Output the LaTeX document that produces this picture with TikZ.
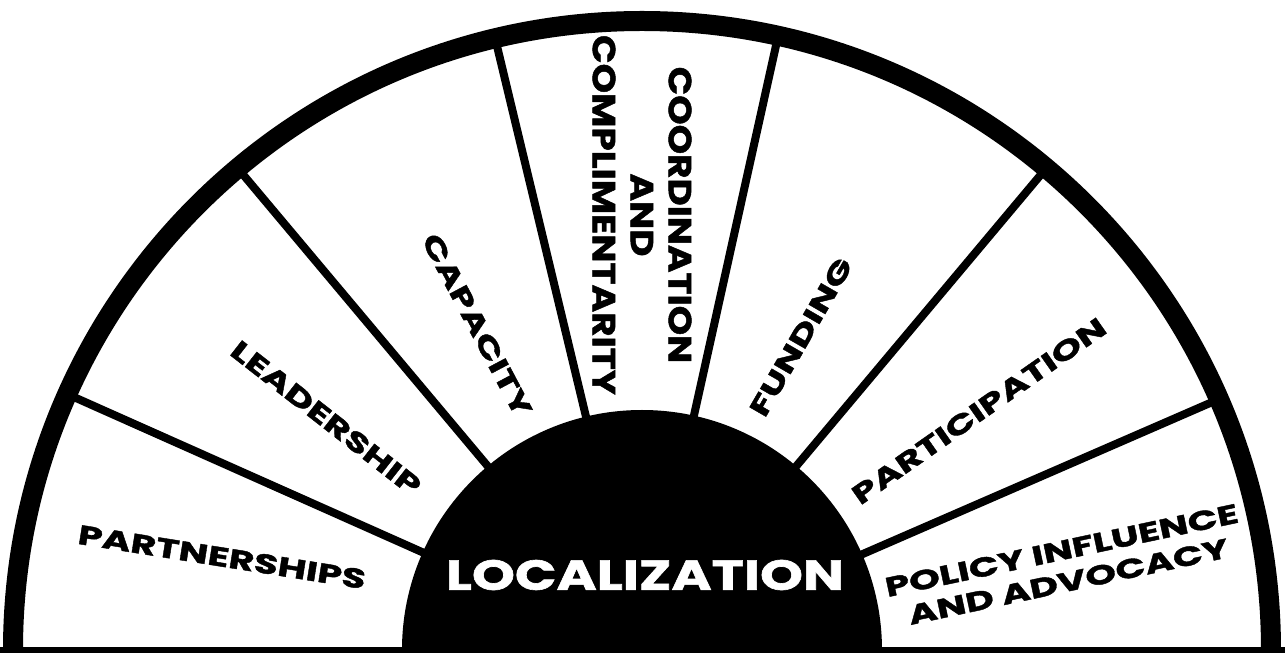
\documentclass[tikz,border=0pt]{standalone}
\usepackage{fontspec}
\setmainfont{Poppins}
\newfontfamily\pillarfont{Poppins}[FakeStretch=1.45, BoldFeatures={FakeBold=1.5}]
\newfontfamily\blockfont{Poppins}[FakeStretch=1.17, BoldFeatures={FakeBold=1.5}]
\newfontfamily\hubfont{Poppins}[FakeStretch=1.3, BoldFeatures={FakeBold=1.5}]

\begin{document}
\begin{tikzpicture}[x=1pt, y=1pt,
  divider/.style={line width=8pt},
  rim/.style={line width=20pt},
  pillar/.style={font=\pillarfont\bfseries\fontsize{27}{32}\selectfont, inner sep=0pt, align=center},
  block/.style={font=\blockfont\bfseries\fontsize{32}{38}\selectfont, inner sep=0pt, align=center},
  hub/.style={font=\hubfont\bfseries\fontsize{42}{48}\selectfont, text=white, inner sep=0pt}]
\useasboundingbox (-642,-3) rectangle (643,650);
\fill[white] (-642,-3) rectangle (643,650);

% centre disc and spokes
\fill[black] (240,0) arc (0:180:240) -- cycle;
\foreach \a in {23.5, 50, 77.5, 103.5, 130, 156} {
  \draw[divider] (\a:236) -- (\a:624);
}
\draw[rim] (629,0) arc (0:180:629);
\draw[line width=6pt] (-642,0) -- (643,0);

% labels
\node[hub] (localization) at (3,75) {LOCALIZATION};
\node[pillar, rotate=-9] (partnerships) at (-420,93) {PARTNERSHIPS};
\node[pillar, rotate=-38] (leadership) at (-316,232) {LEADERSHIP};
\node[pillar, rotate=-62] (capacity) at (-165,325) {CAPACITY};
\node[block, rotate=-90] (coordination) at (0,435)
  {COORDINATION\\AND\\COMPLIMENTARITY};
\node[pillar, rotate=60] (funding) at (159,313) {FUNDING};
\node[pillar, rotate=35] (participation) at (337,239) {PARTICIPATION};
\node[pillar, rotate=12] (policy) at (423,84) {POLICY INFLUENCE\\AND ADVOCACY};
\end{tikzpicture}
\end{document}
